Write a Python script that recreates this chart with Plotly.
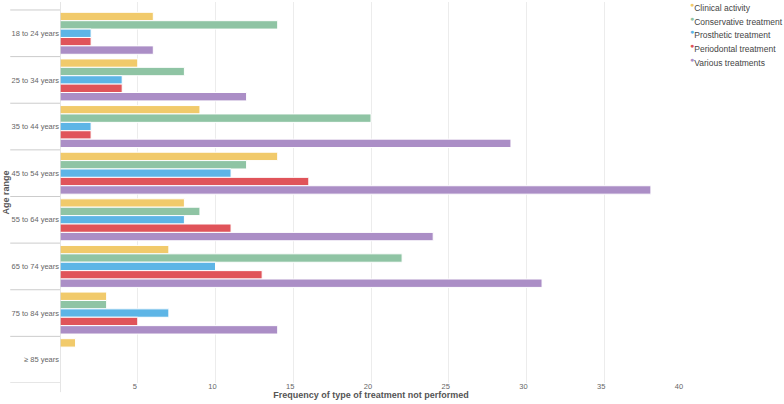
import plotly.graph_objects as go

age_ranges = ["18 to 24 years", "25 to 34 years", "35 to 44 years", "45 to 54 years",
              "55 to 64 years", "65 to 74 years", "75 to 84 years", "≥ 85 years"]
series_names = ["Clinical activity", "Conservative treatment", "Prosthetic treatment",
                "Periodontal treatment", "Various treatments"]
clinical = [6, 5, 9, 14, 8, 7, 3, 1]
conservative = [14, 8, 20, 12, 9, 22, 3, 0]
prosthetic = [2, 4, 2, 11, 8, 10, 7, 0]
periodontal = [2, 4, 2, 16, 11, 13, 5, 0]
various = [6, 12, 29, 38, 24, 31, 14, 0]
colors = ["#f1ca6b", "#8fc4a4", "#5db5e6", "#e0545a", "#ab8ec6"]
x_ticks = [5, 10, 15, 20, 25, 30, 35, 40]

FONT = "Liberation Sans, Arial, sans-serif"
W, H = 784, 404
ML, MR, MT, MB = 60, 102, 2, 21
PW, PH = W - ML - MR, H - MT - MB

fig = go.Figure()
for name, vals, col in zip(series_names, [clinical, conservative, prosthetic, periodontal, various], colors):
    fig.add_trace(go.Bar(
        y=age_ranges, x=vals, name=name, orientation="h",
        marker=dict(color=col, line=dict(color="white", width=1)),
        showlegend=False,
    ))

shapes = []
for i in range(len(age_ranges) + 1):
    shapes.append(dict(type="line", xref="paper", yref="y", x0=-0.08, x1=0,
                       y0=i - 0.5, y1=i - 0.5, line=dict(color="#cccccc", width=1)))
shapes.append(dict(type="line", xref="x", yref="paper", x0=0, x1=0, y0=-0.024, y1=1,
                   line=dict(color="#cccccc", width=1)))

# legend drawn as text items (compact Highcharts-style legend)
annotations = []
for k, (name, col) in enumerate(zip(series_names, colors)):
    px_y = 7 + k * 13.7
    annotations.append(dict(
        xref="paper", yref="paper",
        x=(688 - ML) / PW, y=1 - (px_y - MT) / PH,
        xanchor="left", yanchor="middle", showarrow=False,
        text=f'<sup><span style="color:{col};font-size:7px">●</span></sup>{name}',
        font=dict(family=FONT, size=8.5, color="#444444"),
    ))

fig.update_layout(
    width=W, height=H,
    margin=dict(l=ML, r=MR, t=MT, b=MB),
    plot_bgcolor="white", paper_bgcolor="white",
    barmode="group", bargap=0.1, bargroupgap=0,
    font=dict(family=FONT, color="#666666", size=7.5),
    shapes=shapes, annotations=annotations,
    showlegend=False,
    xaxis=dict(range=[0, 40], tickvals=x_ticks, showgrid=True, gridcolor="#ececec",
               gridwidth=1, zeroline=False, showline=False, ticks="",
               automargin=False, ticklabelshift=-3, ticklabelstandoff=-3,
               tickfont=dict(size=7.5, color="#666666"),
               title=dict(text="<b>Frequency of type of treatment not performed</b>",
                          font=dict(size=9, color="#555555"), standoff=0)),
    yaxis=dict(categoryorder="array", categoryarray=age_ranges,
               range=[7.5, -0.671], showgrid=False, zeroline=False, showline=False,
               ticks="", automargin=False,
               tickfont=dict(size=7.5, color="#666666"),
               title=dict(text="<b>Age range</b>", font=dict(size=9, color="#555555"),
                          standoff=0)),
)

fig.write_html("out.html", config={"displayModeBar": False},
               post_script="document.body.style.margin='0';document.body.style.padding='0';")
